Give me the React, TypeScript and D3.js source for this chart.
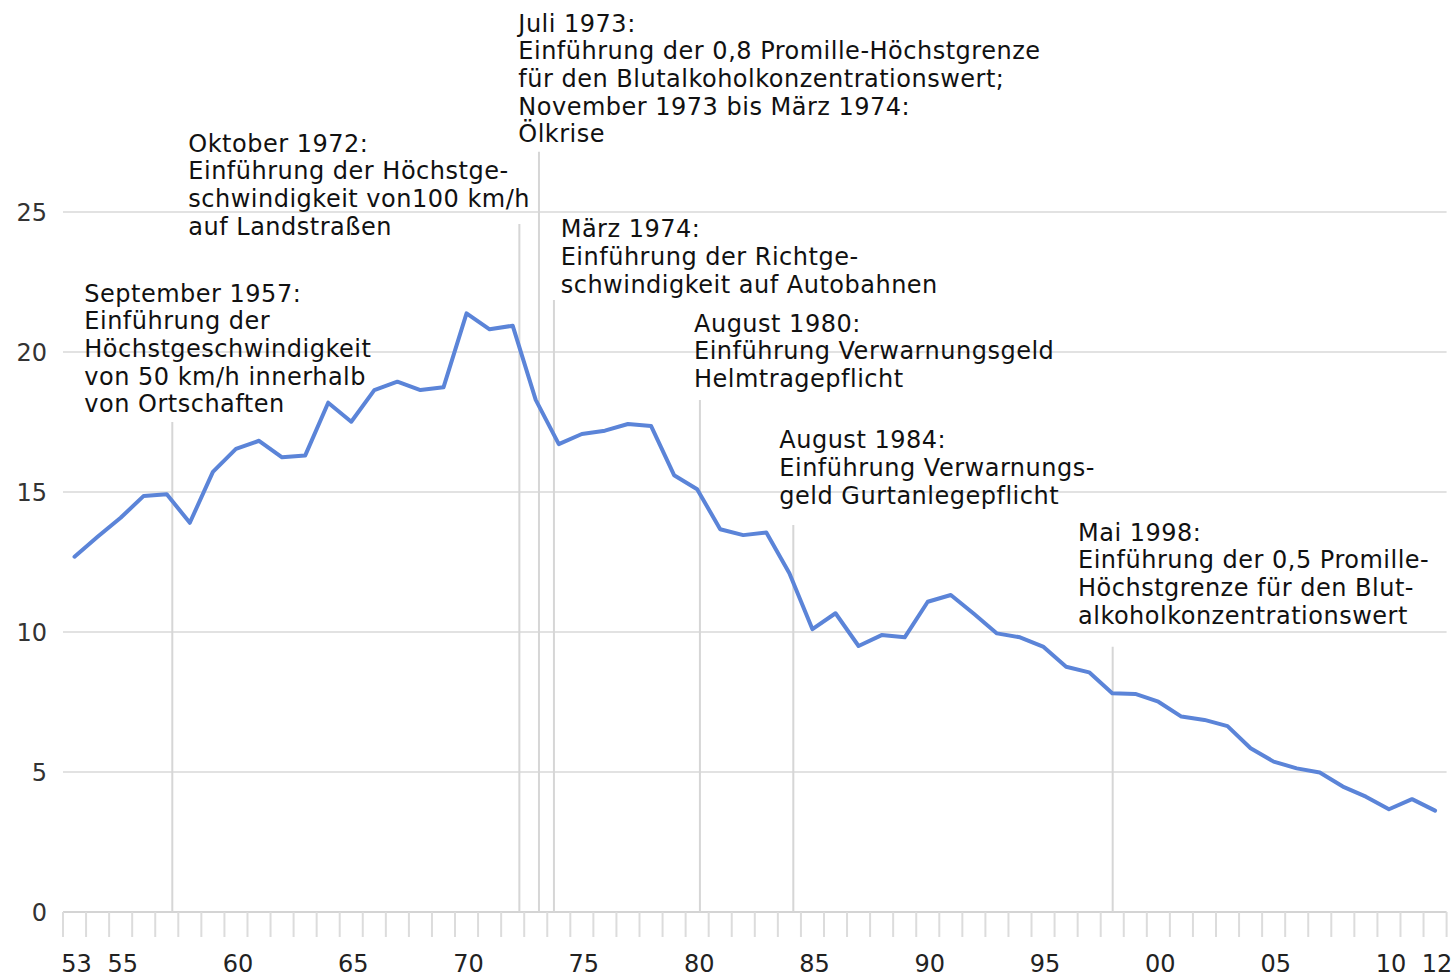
import React from "react";
import * as d3 from "d3";

const years: number[] = d3.range(1953, 2013);
const values: number[] = [
  12.69, 13.4, 14.08, 14.86, 14.92, 13.9, 15.72, 16.54, 16.83, 16.24,
  16.3, 18.19, 17.51, 18.64, 18.94, 18.64, 18.74, 21.38, 20.81, 20.94,
  18.29, 16.71, 17.07, 17.19, 17.43, 17.36, 15.6, 15.1, 13.67, 13.46,
  13.55, 12.1, 10.1, 10.67, 9.5, 9.89, 9.81, 11.08, 11.32, 10.65,
  9.95, 9.81, 9.48, 8.76, 8.56, 7.81, 7.79, 7.51, 6.98, 6.86,
  6.64, 5.85, 5.37, 5.13, 4.98, 4.48, 4.12, 3.67, 4.03, 3.62,
];
const yTicks: number[] = [0, 5, 10, 15, 20, 25];
const xLabelYears: number[] = [1953, 1955, 1960, 1965, 1970, 1975, 1980, 1985, 1990, 1995, 2000, 2005, 2010, 2012];

// annotation events: decimal date and the value the marker line reaches
const eventDates: number[] = [1957.74, 1972.79, 1973.64, 1974.29, 1980.62, 1984.67, 1998.52];
const eventReach: number[] = [17.5, 24.57, 27.15, 21.86, 18.29, 13.82, 9.47];
const eventTexts: string[][] = [
  ["September 1957:", "Einführung der", "Höchstgeschwindigkeit", "von 50 km/h innerhalb", "von Ortschaften"],
  ["Oktober 1972:", "Einführung der Höchstge-", "schwindigkeit von100 km/h", "auf Landstraßen"],
  ["Juli 1973:", "Einführung der 0,8 Promille-Höchstgrenze", "für den Blutalkoholkonzentrationswert;", "November 1973 bis März 1974:", "Ölkrise"],
  ["März 1974:", "Einführung der Richtge-", "schwindigkeit auf Autobahnen"],
  ["August 1980:", "Einführung Verwarnungsgeld", "Helmtragepflicht"],
  ["August 1984:", "Einführung Verwarnungs-", "geld Gurtanlegepflicht"],
  ["Mai 1998:", "Einführung der 0,5 Promille-", "Höchstgrenze für den Blut-", "alkoholkonzentrationswert"],
];

// layout of the annotation text blocks (left x, first baseline y)
const labelLayout = [
  { x: 84.3, y: 301.7 },
  { x: 188.3, y: 151.7 },
  { x: 518.3, y: 31.7 },
  { x: 560.7, y: 237.3 },
  { x: 694, y: 331.7 },
  { x: 779.3, y: 448.3 },
  { x: 1078, y: 540.7 },
];

const W = 1456;
const H = 977;
const FONT = "'DejaVu Sans', Verdana, sans-serif";

export default function App() {
  const x = d3.scaleLinear().domain([1953, 2013]).range([63, 1446.6]);
  const y = d3.scaleLinear().domain([0, 25]).range([912, 212]);
  const line = d3
    .line<number>()
    .x((_, i) => x(years[i] + 0.5))
    .y((d) => y(d))
    .curve(d3.curveLinear);
  const boundaries = d3.range(1953, 2014);
  const lineH = 27.6;

  return (
    <svg
      width={W}
      height={H}
      viewBox={`0 0 ${W} ${H}`}
      style={{ position: "absolute", left: 0, top: 0, background: "#fff" }}
    >
      <rect x={0} y={0} width={W} height={H} fill="#fff" />
      {/* gridlines */}
      {yTicks.map((t) => (
        <line key={"g" + t} x1={x(1953)} x2={x(2013)} y1={y(t)} y2={y(t)} stroke={t === 0 ? "#d4d4d4" : "#e2e2e2"} strokeWidth={2} />
      ))}
      {/* year tick marks */}
      {boundaries.map((b) => (
        <line key={"t" + b} x1={x(b)} x2={x(b)} y1={y(0)} y2={y(0) + 25} stroke="#dcdcdc" strokeWidth={2} />
      ))}
      {/* y labels */}
      {yTicks.map((t) => (
        <text key={"yl" + t} x={47} y={y(t)} dy="0.36em" textAnchor="end" fontFamily={FONT} fontSize={24} fill="#333">
          {t}
        </text>
      ))}
      {/* x labels */}
      {xLabelYears.map((yr) => (
        <text key={"xl" + yr} x={x(yr + 0.5) + 2} y={972} textAnchor="middle" fontFamily={FONT} fontSize={24} fill="#222">
          {String(yr % 100).padStart(2, "0")}
        </text>
      ))}
      {/* event marker lines */}
      {eventDates.map((d, i) => (
        <line key={"ev" + i} x1={x(d)} x2={x(d)} y1={y(eventReach[i])} y2={y(0)} stroke="#d6d6d6" strokeWidth={2} />
      ))}
      {/* data line */}
      <path d={line(values) || ""} fill="none" stroke="#5b84d8" strokeWidth={4} strokeLinejoin="round" strokeLinecap="round" />
      {/* annotation texts */}
      {eventTexts.map((lines, i) => (
        <text key={"at" + i} fontFamily={FONT} fontSize={24} letterSpacing={0.5} fill="#111">
          {lines.map((l, j) => (
            <tspan key={j} x={labelLayout[i].x} y={labelLayout[i].y + j * lineH}>
              {l}
            </tspan>
          ))}
        </text>
      ))}
    </svg>
  );
}
